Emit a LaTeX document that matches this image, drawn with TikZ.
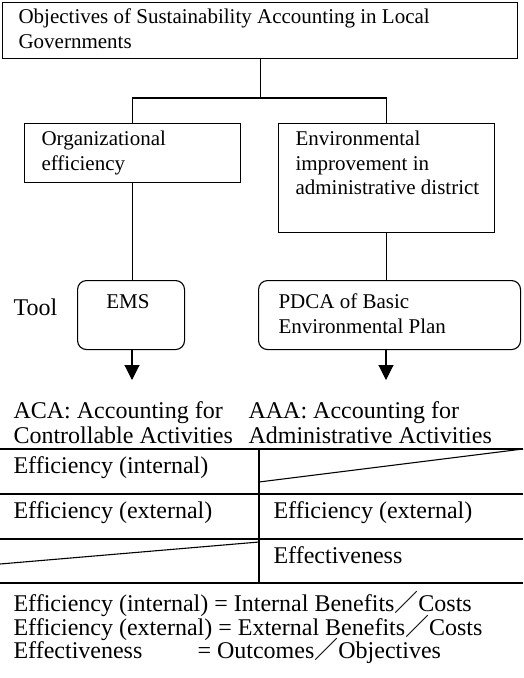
\documentclass[tikz,border=0pt]{standalone}
\usepackage{fontspec}
\setmainfont{Liberation Serif}
\newfontfamily\cjkfont{Noto Sans CJK JP}
\usetikzlibrary{arrows.meta,positioning}
\tikzset{>/.tip={Triangle[width=15pt,length=15pt]}}
\tikzset{frame/.style={draw,inner sep=0pt,anchor=north west}}
\tikzset{txt/.style={anchor=north west,align=left,inner sep=0pt}}
\tikzset{lbl/.style={anchor=base west,inner sep=0pt}}
\tikzset{lowfont/.style={font=\fontsize{24}{25}\selectfont}}
\def\fslash{\smash{\cjkfont ／}}

\begin{document}
\begin{tikzpicture}[x=1pt,y=-1pt,line width=1.1pt,
    font=\fontsize{21}{24.5}\selectfont]
  \useasboundingbox (0,0) rectangle (523,678);
  \node[frame,minimum width=515pt,minimum height=56pt] (goal) at (2,2) {};
  \node[txt] (goaltxt) at (18,8.5) {Objectives of Sustainability Accounting in Local\\Governments};
  \node[frame,minimum width=216pt,minimum height=59pt] (org) at (24,123) {};
  \node[txt] (orgtxt) at (41,130.5) {Organizational\\efficiency};
  \node[frame,minimum width=216pt,minimum height=109pt] (env) at (278,123) {};
  \node[txt] (envtxt) at (295,130.5) {Environmental\\improvement in\\administrative district};
  \node[frame,rounded corners=9pt,minimum width=107pt,minimum height=69pt] (ems) at (77,280) {};
  \node[lbl,anchor=base] (emstxt) at (128,308) {EMS};
  \node[frame,rounded corners=9pt,minimum width=262pt,minimum height=69pt] (pdca) at (258,280) {};
  \node[txt] (pdcatxt) at (278,293.5) {PDCA of Basic\\Environmental Plan};
  \node[lbl,lowfont] (tool) at (13,315) {Tool};
  \coordinate (fork) at (goal.south |- 0,98);
  \coordinate (acaend) at (132,380);
  \coordinate (aaaend) at (386,380);
  \draw (goal.south) -- (fork);
  \draw (org.north) |- (fork) -| (env.north);
  \draw (org.south) -- (org.south |- ems.north);
  \draw (env.south) -- (env.south |- pdca.north);
  \draw[->] (acaend |- ems.south) -- (acaend);
  \draw[->] (aaaend |- pdca.south) -- (aaaend);
  \node[txt,lowfont] (aca) at (13,401) {ACA: Accounting for\\Controllable Activities};
  \node[txt,lowfont] (aaa) at (248,401) {AAA: Accounting for\\Administrative Activities};
  % table
  \coordinate (tl) at (0,449);
  \coordinate (tr) at (523,449);
  \coordinate (bl) at (0,583);
  \coordinate (br) at (523,583);
  \coordinate (midtop) at (259,449);
  \coordinate (midbot) at (259,583);
  \draw[line width=1.4pt] (tl) -- (tr);
  \draw[line width=1.4pt] (0,494) -- (523,494);
  \draw[line width=1.4pt] (0,539) -- (523,539);
  \draw[line width=1.4pt] (bl) -- (br);
  \draw (midtop) -- (midbot);
  \draw (259,482) -- (tr);
  \draw (0,564) -- (259,542);
  \begin{scope}[lowfont]
    \node[lbl] (intl) at (13,473) {Efficiency (internal)};
    \node[lbl] (extl) at (13,518) {Efficiency (external)};
    \node[lbl] (extr) at (273,518) {Efficiency (external)};
    \node[lbl] (effr) at (273,563) {Effectiveness};
  \end{scope}
  \node[txt,font=\fontsize{24}{23.5}\selectfont] (defs) at (13,594.5)
    {Efficiency (internal) = Internal Benefits\fslash Costs\\
     Efficiency (external) = External Benefits\fslash Costs\\
     \makebox[184pt][l]{Effectiveness}= Outcomes\fslash Objectives};
\end{tikzpicture}
\end{document}
